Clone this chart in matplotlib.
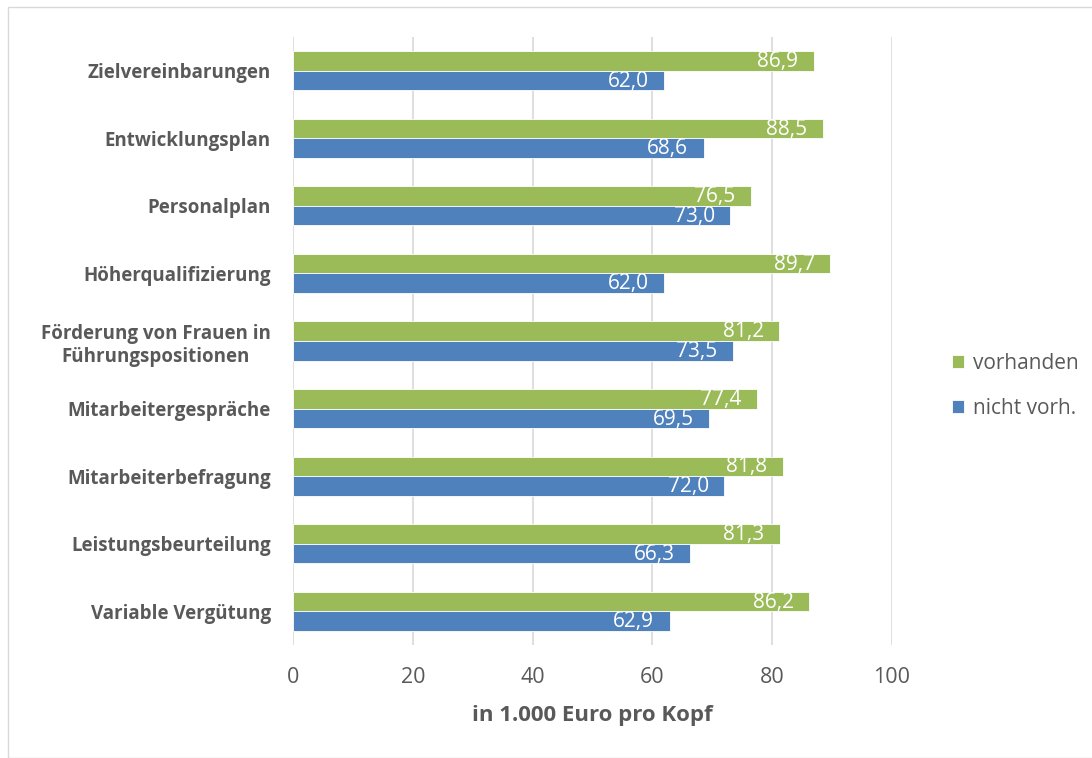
import numpy as np
import matplotlib.pyplot as plt
from matplotlib.patches import Rectangle

categories = ['Zielvereinbarungen', 'Entwicklungsplan', 'Personalplan',
              'Höherqualifizierung', 'Förderung von Frauen in\nFührungspositionen',
              'Mitarbeitergespräche', 'Mitarbeiterbefragung',
              'Leistungsbeurteilung', 'Variable Vergütung']
vorhanden = [86.9, 88.5, 76.5, 89.7, 81.2, 77.4, 81.8, 81.3, 86.2]
nicht_vorh = [62.0, 68.6, 73.0, 62.0, 73.5, 69.5, 72.0, 66.3, 62.9]
xticks = [0, 20, 40, 60, 80, 100]

green = '#9BBB59'
blue = '#4F81BD'
grey = '#595959'

plt.rcParams['font.family'] = ['Open Sans', 'DejaVu Sans']

fig = plt.figure(figsize=(10.92, 7.58), dpi=100)
fig.patches.append(Rectangle((8 / 1092, 0), 1.2, 1 - 7 / 758, transform=fig.transFigure,
                             fill=False, edgecolor='#D9D9D9', linewidth=1))
ax = fig.add_axes([293 / 1092, 1 - 645 / 758, 599 / 1092, 608 / 758])

y = np.arange(len(categories))
h = 0.29
ax.barh(y - h / 2, vorhanden, height=h, color=green, edgecolor='white', linewidth=0.6, label='vorhanden')
ax.barh(y + h / 2, nicht_vorh, height=h, color=blue, edgecolor='white', linewidth=0.6, label='nicht vorh.')

for yi, v in zip(y, vorhanden):
    ax.text(v - 2.6, yi - h / 2 + 0.01, f'{v:.1f}'.replace('.', ','), ha='right', va='center',
            color='white', fontsize=15)
for yi, v in zip(y, nicht_vorh):
    ax.text(v - 2.6, yi + h / 2 + 0.01, f'{v:.1f}'.replace('.', ','), ha='right', va='center',
            color='white', fontsize=15)

ax.set_ylim(len(categories) - 0.5, -0.5)
ax.set_xlim(0, 100)
ax.set_yticks(y)
ax.set_yticklabels(categories, fontsize=13.5, fontweight='bold', color=grey,
                   multialignment='center')
ax.set_xticks(xticks)
ax.set_xticklabels([str(t) for t in xticks], fontsize=15.5, color=grey)
ax.tick_params(length=0)
ax.tick_params(axis='y', pad=16)
ax.tick_params(axis='x', pad=16)
ax.grid(axis='x', color='#D9D9D9', linewidth=1.2)
ax.set_axisbelow(True)
for s in ax.spines.values():
    s.set_visible(False)

ax.set_xlabel('in 1.000 Euro pro Kopf', fontsize=16, fontweight='bold', color=grey, labelpad=12)

leg = fig.legend(loc='center left', bbox_to_anchor=(933 / 1092, 1 - 386 / 758), frameon=False,
                 fontsize=15, handlelength=0.6, handleheight=0.6, handletextpad=0.4,
                 labelspacing=1.15, labelcolor=grey)

fig.savefig('out.png', dpi=100)
